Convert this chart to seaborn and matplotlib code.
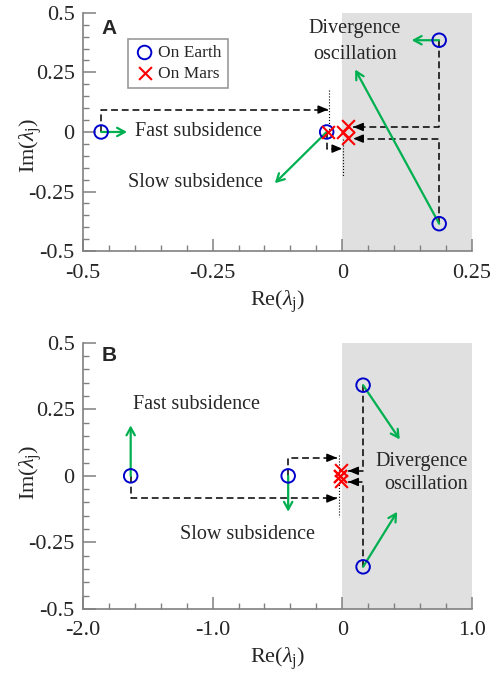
import matplotlib
matplotlib.use('Agg')
import matplotlib.pyplot as plt
import seaborn as sns
import pandas as pd
from matplotlib.ticker import MultipleLocator

# ---- panel A eigenvalues (Re, Im) ----
earth_a_re = [-0.465, -0.030, 0.187, 0.187]
earth_a_im = [0.0, 0.0, 0.385, -0.385]
mars_a_re = [-0.028, 0.002, 0.012, 0.012]
mars_a_im = [0.0, 0.0, 0.024, -0.025]
# green trend arrows (tips), one per earth mode
trend_a_re = [-0.415, -0.130, 0.134, 0.025]
trend_a_im = [0.0, -0.215, 0.385, 0.262]

# ---- panel B eigenvalues ----
earth_b_re = [-1.632, -0.417, 0.161, 0.161]
earth_b_im = [0.0, 0.0, 0.341, -0.342]
mars_b_re = [-0.010, -0.020, -0.020, -0.010]
mars_b_im = [0.022, 0.0, 0.0, -0.021]
trend_b_re = [-1.632, -0.417, 0.444, 0.424]
trend_b_im = [0.190, -0.135, 0.137, -0.135]

serif = 'Liberation Serif'
GREEN = '#00b050'
GRAY = '#808080'

sns.set_style('white')
plt.rcParams['font.family'] = [serif, 'DejaVu Serif']
plt.rcParams['mathtext.fontset'] = 'custom'
plt.rcParams['mathtext.rm'] = serif
plt.rcParams['mathtext.it'] = serif + ':italic'
plt.rcParams['axes.unicode_minus'] = False


def fmt_a(v, _):
    return '0' if abs(v) < 1e-9 else ('%g' % v)


def fmt_b(v, _):
    return '0' if abs(v) < 1e-9 else ('%.1f' % v)


def style_axes(ax, xlim, xmajor, xminor, fmt):
    ax.set_xlim(*xlim)
    ax.set_ylim(-0.5, 0.5)
    ax.axvspan(0, xlim[1], color='#e0e0e0', zorder=0, lw=0)
    for s in ['top', 'right']:
        ax.spines[s].set_visible(False)
    for s in ['left', 'bottom']:
        ax.spines[s].set_color(GRAY)
        ax.spines[s].set_linewidth(1.2)
    ax.xaxis.set_major_locator(MultipleLocator(xmajor))
    ax.xaxis.set_minor_locator(MultipleLocator(xminor))
    ax.yaxis.set_major_locator(MultipleLocator(0.25))
    ax.yaxis.set_minor_locator(MultipleLocator(0.05))
    ax.xaxis.set_major_formatter(fmt)
    ax.yaxis.set_major_formatter(fmt_a)
    ax.tick_params(which='both', bottom=True, left=True, top=False, right=False)
    ax.tick_params(which='major', direction='in', length=9, width=1.1, color=GRAY,
                   labelsize=16, pad=6)
    ax.tick_params(which='minor', direction='in', length=4.5, width=1.0, color=GRAY)
    ax.tick_params(axis='x', which='major', pad=9)
    ax.grid(False)


def set_labels(ax, ylab_y):
    ax.set_xlabel(r'Re($\lambda_{\rm j}$)', fontsize=16, labelpad=4)
    ax.set_ylabel(r'Im($\lambda_{\rm j}$)', fontsize=16, va='center')
    ax.yaxis.set_label_coords(-0.135, ylab_y)


def dashed_path(ax, xs, ys):
    ax.plot(xs, ys, color='black', lw=1.1, ls=(0, (4.5, 2.5)), zorder=2)
    # small solid arrowhead at the end of the path
    dx = xs[-1] - xs[-2]
    sign = 1 if dx > 0 else -1
    ax.annotate('', xy=(xs[-1], ys[-1]), xytext=(-sign * 6, 0), textcoords='offset points',
                arrowprops=dict(arrowstyle='-|>,head_length=0.6,head_width=0.25',
                                color='black', lw=1.0, shrinkA=0, shrinkB=0), zorder=3)


def trend_arrows(ax, x0, y0, x1, y1):
    for a, b, c, d in zip(x0, y0, x1, y1):
        ax.annotate('', xy=(c, d), xytext=(a, b),
                    arrowprops=dict(arrowstyle='->,head_length=0.55,head_width=0.3',
                                    color=GREEN, lw=1.6, shrinkA=0, shrinkB=0), zorder=4)


def draw_points(ax, ere, eim, mre, mim, legend):
    df = pd.DataFrame({'re': ere + mre, 'im': eim + mim,
                       'planet': ['On Earth'] * len(ere) + ['On Mars'] * len(mre)})
    de = df[df.planet == 'On Earth']
    dm = df[df.planet == 'On Mars']
    sns.scatterplot(data=de, x='re', y='im', s=95, facecolors='none', edgecolor='#0000cc',
                    linewidth=1.4, zorder=5, label='On Earth', ax=ax)
    sns.scatterplot(data=dm, x='re', y='im', s=85, marker='x', color='red', linewidth=1.5,
                    zorder=6, label='On Mars', ax=ax)
    if legend:
        leg = ax.legend(loc='upper left', bbox_to_anchor=(0.116, 0.891), borderaxespad=0,
                        fontsize=12.5, frameon=True, fancybox=False, handletextpad=0.2,
                        borderpad=0.35, labelspacing=0.25, handlelength=1.2)
        leg.get_frame().set_edgecolor(GRAY)
        leg.get_frame().set_linewidth(1.2)
    else:
        ax.get_legend().remove()


fig = plt.figure(figsize=(4.91, 6.75), dpi=100)
ax_a = fig.add_axes([0.169, 0.628, 0.792, 0.353])
ax_b = fig.add_axes([0.169, 0.098, 0.792, 0.394])

# ---------------- panel A ----------------
style_axes(ax_a, (-0.5, 0.25), 0.25, 0.05, fmt_a)
draw_points(ax_a, earth_a_re, earth_a_im, mars_a_re, mars_a_im, legend=True)
set_labels(ax_a, 0.445)
trend_arrows(ax_a, earth_a_re, earth_a_im, trend_a_re, trend_a_im)
dashed_path(ax_a, [earth_a_re[0], earth_a_re[0], -0.027], [0.0, 0.094, 0.094])
dashed_path(ax_a, [earth_a_re[1], earth_a_re[1], 0.0], [0.0, -0.07, -0.07])
dashed_path(ax_a, [earth_a_re[2], earth_a_re[2], 0.021], [earth_a_im[2], 0.021, 0.021])
dashed_path(ax_a, [earth_a_re[3], earth_a_re[3], 0.021], [earth_a_im[3], -0.028, -0.028])
ax_a.plot([-0.026, -0.026], [0.178, 0.01], color='black', lw=0.8, ls=':', zorder=2)
ax_a.plot([0.001, 0.001], [-0.03, -0.19], color='black', lw=0.8, ls=':', zorder=2)
ax_a.text(-0.465, 0.434, 'A', family='Liberation Sans', weight='bold', fontsize=15,
          va='center', ha='left')
ax_a.text(-0.40, 0.0, 'Fast subsidence', fontsize=14.5, va='center', ha='left')
ax_a.text(-0.153, -0.21, 'Slow subsidence', fontsize=14.5, va='center', ha='right')
ax_a.text(0.024, 0.378, 'Divergence\noscillation', fontsize=14.5, va='center', ha='center',
          linespacing=1.5)

# ---------------- panel B ----------------
style_axes(ax_b, (-2.0, 1.0), 1.0, 0.2, fmt_b)
draw_points(ax_b, earth_b_re, earth_b_im, mars_b_re, mars_b_im, legend=False)
set_labels(ax_b, 0.514)
trend_arrows(ax_b, earth_b_re, earth_b_im, trend_b_re, trend_b_im)
dashed_path(ax_b, [earth_b_re[0], earth_b_re[0], -0.04], [0.0, -0.085, -0.085])
dashed_path(ax_b, [earth_b_re[1], earth_b_re[1], -0.04], [0.0, 0.068, 0.068])
dashed_path(ax_b, [earth_b_re[2], earth_b_re[2], 0.046], [earth_b_im[2], 0.019, 0.019])
dashed_path(ax_b, [earth_b_re[3], earth_b_re[3], 0.046], [earth_b_im[3], -0.023, -0.023])
ax_b.plot([-0.024, -0.024], [0.078, -0.155], color='black', lw=0.8, ls=':', zorder=2)
ax_b.text(-1.856, 0.453, 'B', family='Liberation Sans', weight='bold', fontsize=15,
          va='center', ha='left')
ax_b.text(-1.617, 0.27, 'Fast subsidence', fontsize=14.5, va='center', ha='left')
ax_b.text(-1.252, -0.219, 'Slow subsidence', fontsize=14.5, va='center', ha='left')
ax_b.text(0.97, 0.01, 'Divergence\noscillation', fontsize=14.5, va='center', ha='right',
          linespacing=1.3)

fig.savefig('out.png', dpi=100)
